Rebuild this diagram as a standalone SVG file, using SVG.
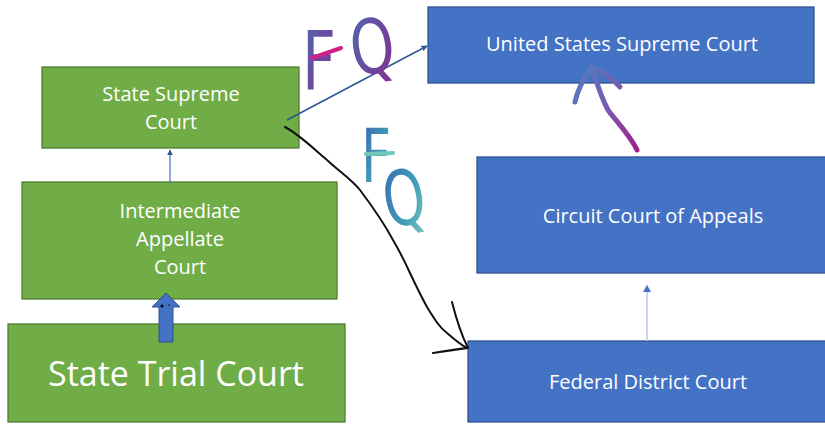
<svg xmlns="http://www.w3.org/2000/svg" width="825" height="424" viewBox="0 0 825 424">
<defs>
<style>
.g{fill:#70AD47;stroke:#507E32;stroke-width:1.3}
.b{fill:#4472C4;stroke:#2F528F;stroke-width:1.3}
.t{font-family:"Open Sans","Liberation Sans",sans-serif;fill:#fff;text-anchor:middle}
.hw{font-family:"DejaVu Sans",sans-serif}
.ink{fill:none;stroke-linecap:round;stroke-linejoin:round}
</style>
<marker id="ah" viewBox="0 0 10 10" refX="9" refY="5" markerWidth="6" markerHeight="6" orient="auto-start-reverse" markerUnits="userSpaceOnUse">
<path d="M0,0 L10,5 L0,10 z" fill="#2F5597"/>
</marker>
<linearGradient id="pq" x1="0" y1="0" x2="1" y2="1">
<stop offset="0" stop-color="#4A6FB0"/>
<stop offset="0.5" stop-color="#6A4AA0"/>
<stop offset="1" stop-color="#8A2A8A"/>
</linearGradient>
<linearGradient id="tq" x1="0" y1="0" x2="1" y2="1">
<stop offset="0" stop-color="#3A5FB0"/>
<stop offset="0.6" stop-color="#3FA0B8"/>
<stop offset="1" stop-color="#9AD6B8"/>
</linearGradient>
<linearGradient id="arr" x1="0" y1="0" x2="1" y2="1">
<stop offset="0" stop-color="#4F7FC0"/>
<stop offset="0.5" stop-color="#7A5AB0"/>
<stop offset="1" stop-color="#A0208A"/>
</linearGradient>
</defs>

<g id="state-supreme">
<rect class="g" x="42" y="67" width="257" height="81"/>
<text class="t" x="171" y="101" font-size="20">State Supreme</text>
<text class="t" x="171" y="129" font-size="20">Court</text>
</g>
<g id="intermediate">
<rect class="g" x="22" y="182" width="315" height="117"/>
<text class="t" x="180" y="218" font-size="20">Intermediate</text>
<text class="t" x="180" y="246" font-size="20">Appellate</text>
<text class="t" x="180" y="274" font-size="20">Court</text>
</g>
<g id="state-trial">
<rect class="g" x="8" y="324" width="337" height="98"/>
<text class="t" x="176" y="386" font-size="34">State Trial Court</text>
</g>
<g id="us-supreme">
<rect class="b" x="428" y="7" width="386" height="76"/>
<text class="t" x="622" y="51" font-size="20">United States Supreme Court</text>
</g>
<g id="circuit">
<rect class="b" x="477" y="157" width="350" height="116"/>
<text class="t" x="653" y="223" font-size="20">Circuit Court of Appeals</text>
</g>
<g id="district">
<rect class="b" x="468" y="341" width="360" height="81"/>
<text class="t" x="648" y="389" font-size="20">Federal District Court</text>
</g>

<g id="connectors">
<line x1="170" y1="182" x2="170" y2="150" stroke="#4472C4" stroke-width="1.2" marker-end="url(#ah)"/>
<path d="M159,342 L159,307 L152,307 L166,293 L180,307 L173,307 L173,342 Z" fill="#4472C4" stroke="#2F528F" stroke-width="1"/>
<circle cx="162" cy="306" r="1.5" fill="#000"/>
<circle cx="169" cy="305" r="1" fill="#333"/>
<line x1="647" y1="341" x2="647" y2="285" stroke="#B4C7E7" stroke-width="1.5"/>
<path d="M643,292 L647,285 L651,292 Z" fill="#4472C4"/>
<line x1="287" y1="120" x2="427" y2="46" stroke="#2F5597" stroke-width="1.5" marker-end="url(#ah)"/>
<path class="ink" d="M285,127 C300,135 315,150 327,160 C340,172 352,180 360,190 C375,210 385,225 393,240 C400,252 405,262 410,273 C418,290 422,298 427,307 C435,320 440,328 447,333 C455,340 461,345 467,348" stroke="#111" stroke-width="2"/>
<path class="ink" d="M452,302 C456,318 460,332 468,348 L433,353 C445,351 456,349 468,348" stroke="#111" stroke-width="2"/>
</g>

<g id="annotations">
<text class="hw" x="0" y="0" font-size="82" fill="url(#pq)" transform="translate(302,90) scale(0.72,1)">F</text>
<line class="ink" x1="312" y1="58" x2="341" y2="48" stroke="#D0208A" stroke-width="4"/>
<text class="hw" x="0" y="0" font-size="72" fill="url(#pq)" transform="translate(354,76) rotate(-8) scale(0.78,1.05)">Q</text>
<text class="hw" x="0" y="0" font-size="75" fill="url(#tq)" transform="translate(361,182) scale(0.7,1)">F</text>
<line class="ink" x1="366" y1="154" x2="393" y2="153" stroke="#6FC8B8" stroke-width="4"/>
<text class="hw" x="0" y="0" font-size="76" fill="url(#tq)" transform="translate(388,228) rotate(-10) scale(0.7,1)">Q</text>
<path class="ink" d="M637,150 C630,135 615,120 608,110 C600,95 596,80 592,67 C586,75 578,88 575,102 M592,67 C600,70 612,78 620,87" stroke="url(#arr)" stroke-width="5"/>
</g>
</svg>
